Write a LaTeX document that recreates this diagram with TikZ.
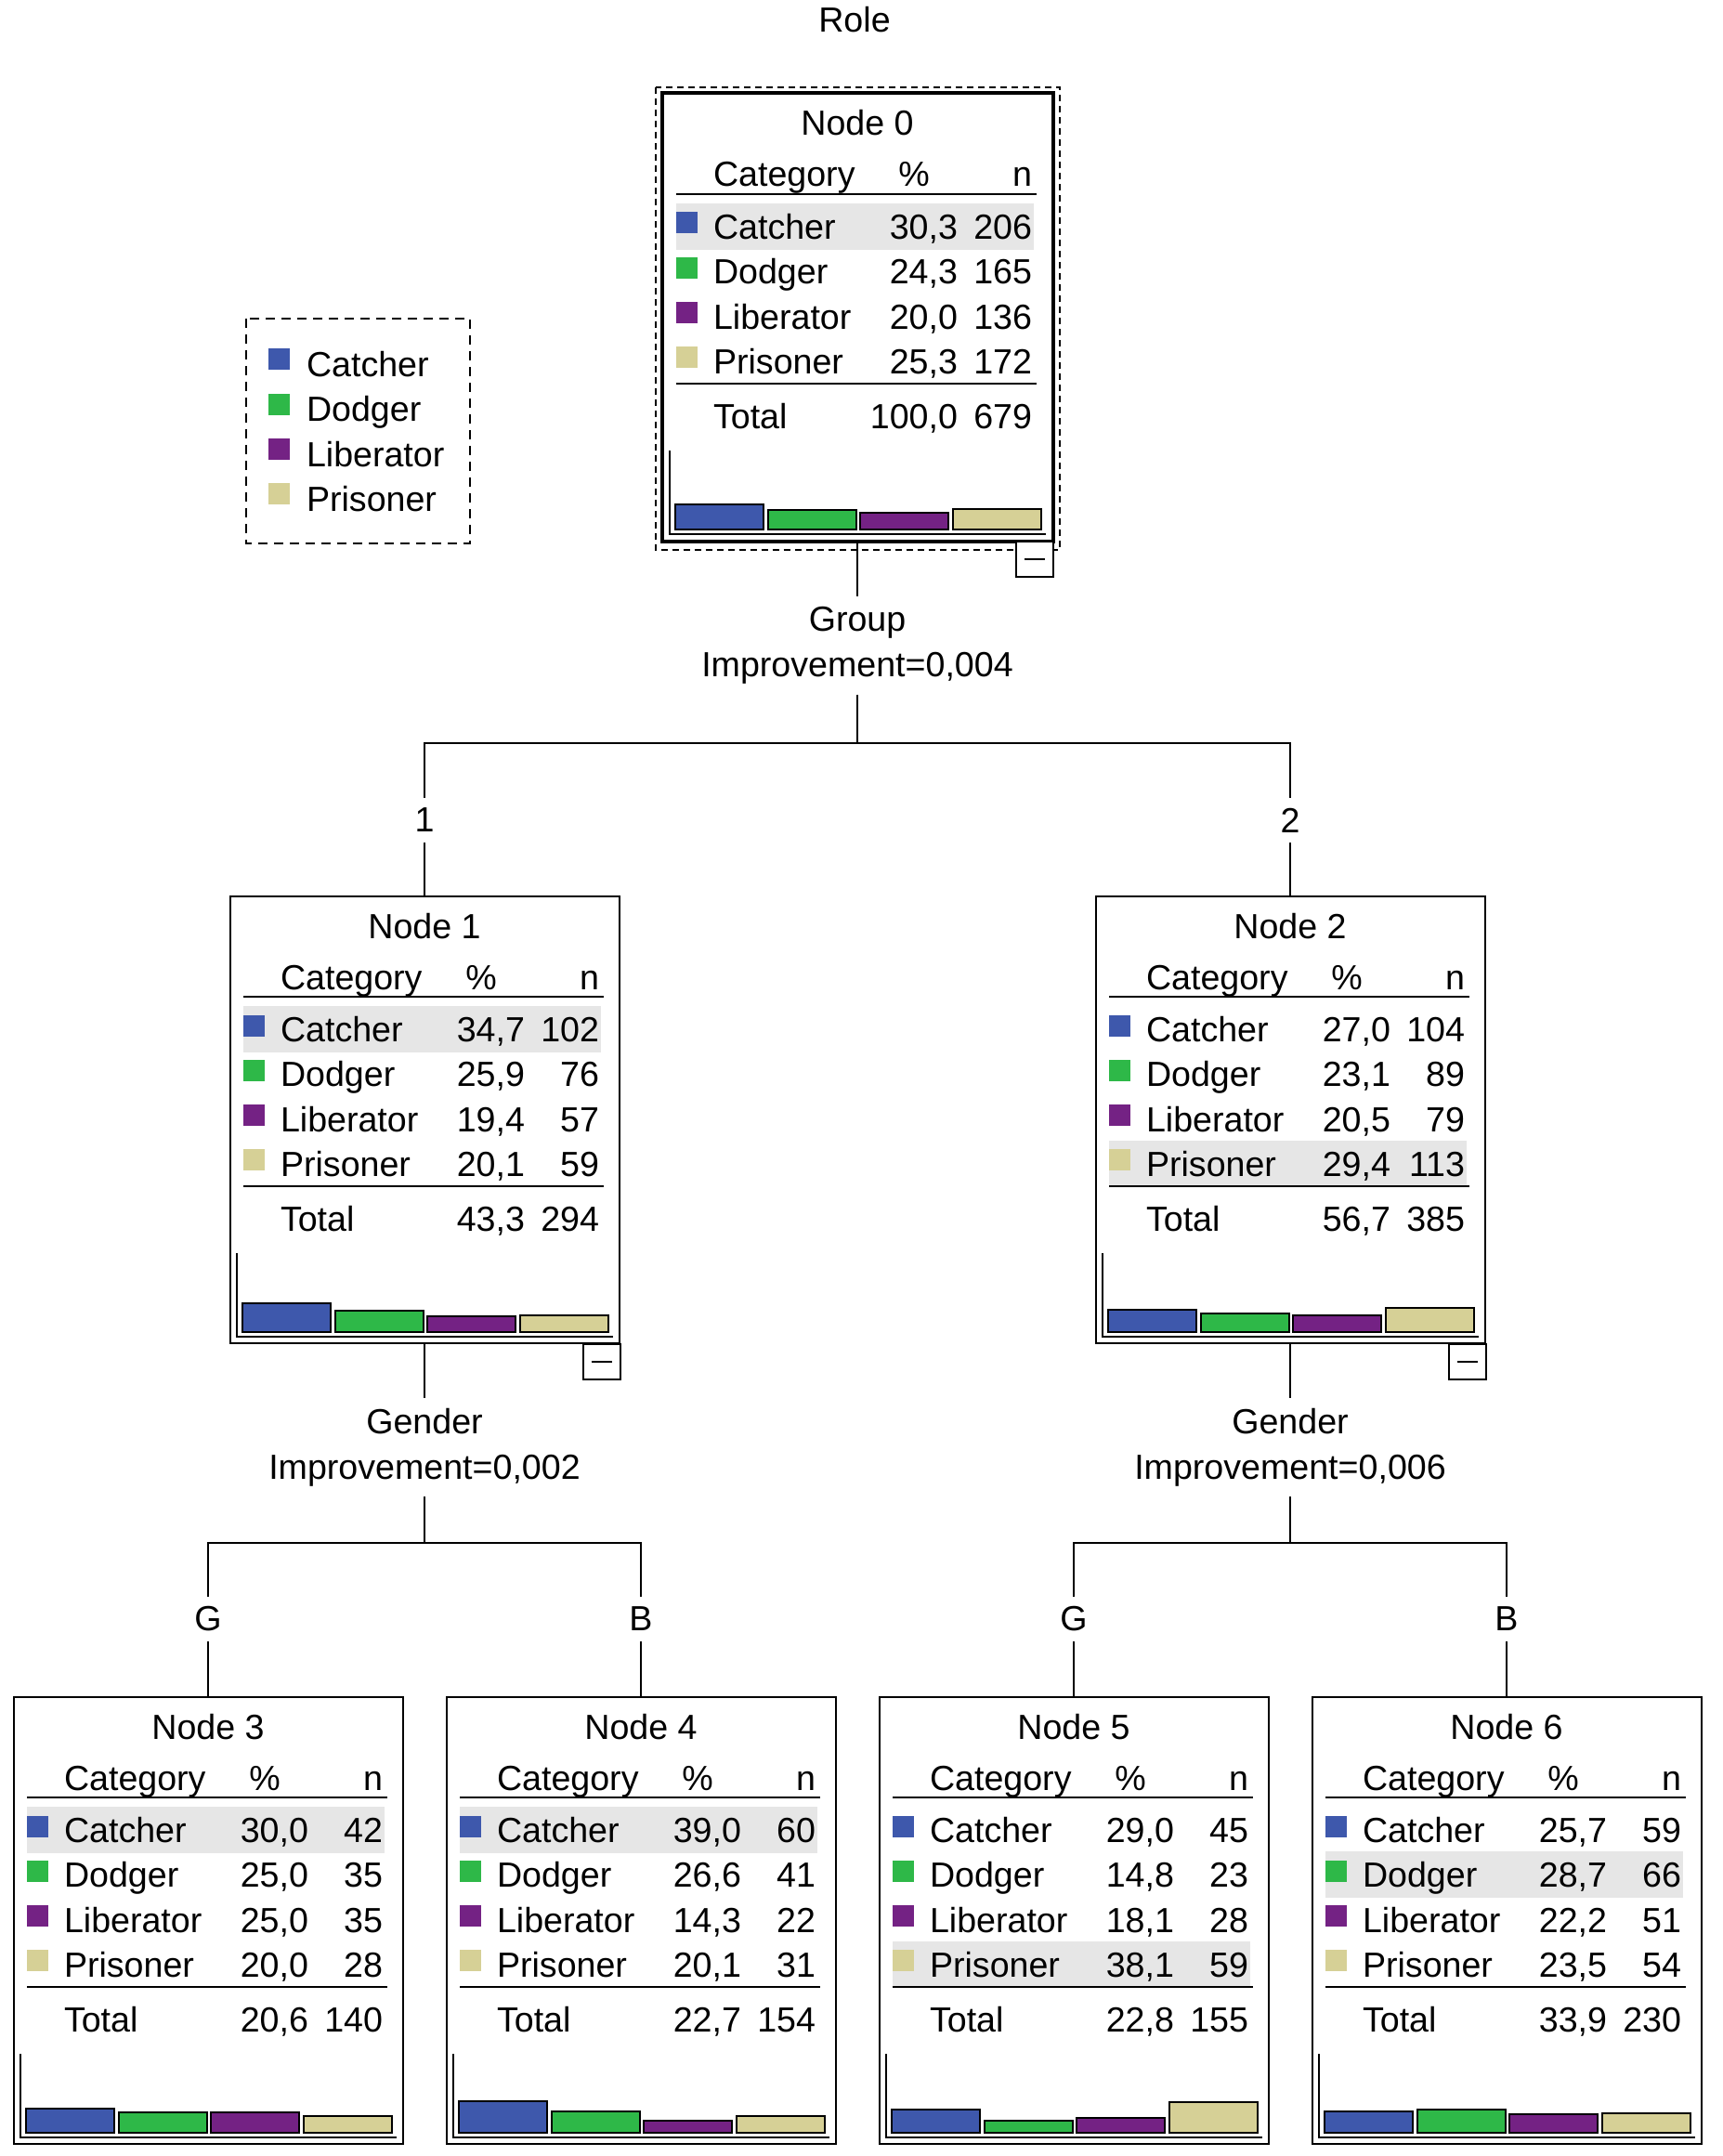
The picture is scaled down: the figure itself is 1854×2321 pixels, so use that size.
\documentclass[tikz,border=0pt]{standalone}
\usepackage{fontspec}
\setmainfont{Liberation Sans}

\definecolor{role1}{RGB}{62,88,172}
\definecolor{role2}{RGB}{46,184,72}
\definecolor{role3}{RGB}{116,34,132}
\definecolor{role4}{RGB}{214,208,150}
\definecolor{hlgray}{RGB}{230,230,230}

\tikzset{
    every node/.style={font=\fontsize{18.8}{24.5}\selectfont},
    treebox/.style={draw, line width=1pt, minimum width=209.5pt, minimum height=240.5pt, inner sep=0pt},
    cell/.style={inner sep=0pt},
    bar/.style={draw=black, line width=1pt},
    split/.style={align=center, inner sep=5pt},
    branch/.style={inner sep=5pt},
    link/.style={line width=1pt},
    legframe/.style={line width=1pt, dash pattern=on 5pt off 3.5pt},
    selframe/.style={line width=1pt, dash pattern=on 3.5pt off 2.5pt},
    minusbox/.style={line width=1pt, fill=white}
}

\newcommand{\statbox}[8]{%
    \begin{scope}[shift={(#2-210,#3)}]
        \fill[hlgray] (15,{118+48.3*(#5-1)}) rectangle (400,{168+48.3*(#5-1)});
        \node[treebox] (#1) at (210,240.5) {};
        \node[cell, anchor=base] (#1-title) at (210,45) {#4};
        \node[cell, anchor=base west] (#1-cat) at (54,100) {Category};
        \node[cell, anchor=base] (#1-pc) at (271,100) {\%};
        \node[cell, anchor=base east] (#1-nn) at (399,100) {n};
        \draw (15,108) -- (403,108);
        \foreach \lab [count=\i] in {Catcher,Dodger,Liberator,Prisoner} {
            \fill[role\i] (15,{127.5+48.3*(\i-1)}) rectangle ++(23,23);
            \node[cell, anchor=base west] (#1-r\i) at (54,{156.5+48.3*(\i-1)}) {\lab};
        }
        \foreach \p/\n/\h [count=\i] in {#6} {
            \node[cell, anchor=base east] (#1-p\i) at (319,{156.5+48.3*(\i-1)}) {\p};
            \node[cell, anchor=base east] (#1-n\i) at (399,{156.5+48.3*(\i-1)}) {\n};
            \draw[bar, fill=role\i] ({14+99.5*(\i-1)},469) rectangle ++(95,-0.88*\h);
        }
        \draw (15,312) -- (403,312);
        \node[cell, anchor=base west] (#1-tot) at (54,360.5) {Total};
        \node[cell, anchor=base east] (#1-tp) at (319,360.5) {#7};
        \node[cell, anchor=base east] (#1-tn) at (399,360.5) {#8};
        \draw (8,384) -- (8,474) -- (413,474);
    \end{scope}}

\begin{document}
\begin{tikzpicture}[x=0.5pt, y=-0.5pt, line width=1pt]
    \useasboundingbox (0,0) rectangle (1854,2321);
    \node (role) at (920,21) {Role};

    % legend
    \draw[legframe] (265,343) rectangle (506,585);
    \foreach \lab [count=\i] in {Catcher,Dodger,Liberator,Prisoner} {
        \fill[role\i] (289,{375.5+48.3*(\i-1)}) rectangle ++(23,23);
        \node[cell, anchor=base west] (leg\i) at (329,{405.5+48.3*(\i-1)}) {\lab};
    }

    \statbox{n0}{923}{101}{Node 0}{1}{{30,3}/206/30.3,{24,3}/165/24.3,{20,0}/136/20.0,{25,3}/172/25.3}{100,0}{679}
    \statbox{n1}{457}{965}{Node 1}{1}{{34,7}/102/34.7,{25,9}/76/25.9,{19,4}/57/19.4,{20,1}/59/20.1}{43,3}{294}
    \statbox{n2}{1389}{965}{Node 2}{4}{{27,0}/104/27.0,{23,1}/89/23.1,{20,5}/79/20.5,{29,4}/113/29.4}{56,7}{385}
    \statbox{n3}{224}{1827}{Node 3}{1}{{30,0}/42/30.0,{25,0}/35/25.0,{25,0}/35/25.0,{20,0}/28/20.0}{20,6}{140}
    \statbox{n4}{690}{1827}{Node 4}{1}{{39,0}/60/39.0,{26,6}/41/26.6,{14,3}/22/14.3,{20,1}/31/20.1}{22,7}{154}
    \statbox{n5}{1156}{1827}{Node 5}{4}{{29,0}/45/29.0,{14,8}/23/14.8,{18,1}/28/18.1,{38,1}/59/38.1}{22,8}{155}
    \statbox{n6}{1622}{1827}{Node 6}{2}{{25,7}/59/25.7,{28,7}/66/28.7,{22,2}/51/22.2,{23,5}/54/23.5}{33,9}{230}

    \draw[line width=2pt] (n0.north west) rectangle (n0.south east);
    \draw[selframe] ([shift={(-7,-6)}]n0.north west) rectangle ([shift={(7,9)}]n0.south east);

    \node[split] (s0) at (923,695) {Group\\Improvement=0,004};
    \node[split] (s1) at (457,1558) {Gender\\Improvement=0,002};
    \node[split] (s2) at (1389,1558) {Gender\\Improvement=0,006};
    \coordinate (j0) at (923,800);
    \coordinate (j1) at (457,1661);
    \coordinate (j2) at (1389,1661);
    \node[branch] (b1) at (457,883) {1};
    \node[branch] (b2) at (1389,883) {2};
    \node[branch] (b3) at (224,1743) {G};
    \node[branch] (b4) at (690,1743) {B};
    \node[branch] (b5) at (1156,1743) {G};
    \node[branch] (b6) at (1622,1743) {B};

    \draw[link] (n0.south) -- (s0.north);
    \draw[link] (s0.south) -- (j0);
    \draw[link] (b1.north) |- (j0) -| (b2.north);
    \draw[link] (b1.south) -- (n1.north);
    \draw[link] (b2.south) -- (n2.north);
    \draw[link] (n1.south) -- (s1.north);
    \draw[link] (s1.south) -- (j1);
    \draw[link] (b3.north) |- (j1) -| (b4.north);
    \draw[link] (b3.south) -- (n3.north);
    \draw[link] (b4.south) -- (n4.north);
    \draw[link] (n2.south) -- (s2.north);
    \draw[link] (s2.south) -- (j2);
    \draw[link] (b5.north) |- (j2) -| (b6.north);
    \draw[link] (b5.south) -- (n5.north);
    \draw[link] (b6.south) -- (n6.north);

    \foreach \b in {n0,n1,n2} {
        \draw[minusbox] (\b.south east) rectangle ++(-40,38);
        \draw ([shift={(-31,19)}]\b.south east) -- ++(22,0);
    }
\end{tikzpicture}
\end{document}
